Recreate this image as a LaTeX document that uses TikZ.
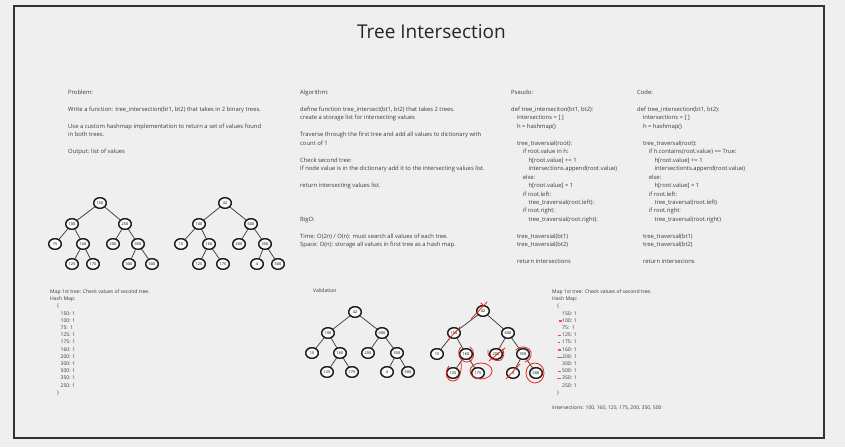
\documentclass[tikz,border=0pt]{standalone}
\usepackage{fontspec}
\setmainfont{Open Sans}
\usetikzlibrary{shapes.geometric}
\definecolor{bg}{HTML}{EFEFEF}
\definecolor{txt}{HTML}{3A3A3A}
\definecolor{framec}{HTML}{333333}
\definecolor{mark}{HTML}{E8261C}
\tikzset{
  blk/.style={anchor=north west, inner sep=0pt, align=left, text=txt, font=\fontsize{5.85}{8.45}\selectfont},
  hblk/.style={anchor=north west, inner sep=0pt, align=left, text=txt, font=\fontsize{5.05}{7.2}\selectfont},
  tn/.style={ellipse, draw=black!90, line width=1.3pt, fill=white!70!bg, minimum width=12.5pt, minimum height=10.5pt, inner sep=0pt, font=\fontsize{3.8}{4}\selectfont},
  edge/.style={draw=black!75, line width=0.75pt},
  redmark/.style={draw=mark, line width=0.8pt, line cap=round},
  reddash/.style={draw=mark!80, line width=1.1pt}
}
\newcommand{\ind}{\hspace*{5.8pt}}
\newcommand{\bintree}[2]{%
  \foreach \n/\px/\py/\lab in {#2} {\node[tn] (#1\n) at (\px,\py) {\lab};}
  \foreach \a/\b in {r/l,r/R,l/ll,l/lr,R/rl,R/rr,lr/lrl,lr/lrr,rr/rrl,rr/rrr}
    {\draw[edge] (#1\a) -- (#1\b);}
  \foreach \n/\px/\py/\lab in {#2} {\node[tn] at (#1\n) {\lab};}
}
\begin{document}
\begin{tikzpicture}[x=1pt,y=-1pt]
\fill[bg] (0,0) rectangle (845,447);
\useasboundingbox (0,0) rectangle (845,447);
\draw[framec, line width=2.2pt] (14,6) rectangle (824,438);

\node[text=black!85, font=\fontsize{19}{21}\selectfont] (title) at (431.5,32) {Tree Intersection};

\node[blk] (problem) at (68,90) {Problem:\\ ~\\
Write a function: tree\_intersection(bt1, bt2) that takes in 2 binary trees.\\ ~\\
Use a custom hashmap implementation to return a set of values found\\
in both trees.\\ ~\\
Output: list of values};

\node[blk] (algo) at (300,90) {Algorithm:\\ ~\\
define function tree\_intersect(bt1, bt2) that takes 2 trees.\\
create a storage list for intersecting values\\ ~\\
Traverse through the first tree and add all values to dictionary with\\
count of 1\\ ~\\
Check second tree:\\
If node value is in the dictionary add it to the intersecting values list.\\ ~\\
return intersecting values list.\\ ~\\ ~\\ ~\\
BigO:\\ ~\\
Time: O(2n) / O(n): must search all values of each tree.\\
Space: O(n): storage all values in first tree as a hash map.};

\node[blk] (pseudo) at (511,90) {Pseudo:\\ ~\\
def tree\_interseciton(bt1, bt2):\\
\ind intersections = [ ]\\
\ind h = hashmap()\\ ~\\
\ind tree\_traversial(root):\\
\ind\ind if root.value in h:\\
\ind\ind\ind h[root.value] += 1\\
\ind\ind\ind intersections.append(root.value)\\
\ind\ind else:\\
\ind\ind\ind h[root.value] = 1\\
\ind\ind if root.left:\\
\ind\ind\ind tree\_traversial(root.left):\\
\ind\ind if root.right:\\
\ind\ind\ind tree\_traversial(root.right):\\ ~\\
\ind tree\_traversial(bt1)\\
\ind tree\_traversial(bt2)\\ ~\\
\ind return intersections};

\node[blk] (code) at (637,90) {Code:\\ ~\\
def tree\_intersection(bt1, bt2):\\
\ind intersections = [ ]\\
\ind h = hashmap()\\ ~\\
\ind tree\_traversal(root):\\
\ind\ind if h.contains(root.value) == True:\\
\ind\ind\ind h[root.value] += 1\\
\ind\ind\ind intersectionts.append(root.value)\\
\ind\ind else:\\
\ind\ind\ind h[root.value] = 1\\
\ind\ind if root.left:\\
\ind\ind\ind tree\_traversal(root.left)\\
\ind\ind if root.right:\\
\ind\ind\ind tree\_traversal(root.right)\\ ~\\
\ind tree\_traversal(bt1)\\
\ind tree\_traversal(bt2)\\ ~\\
\ind return intersecions};

% trees
\bintree{a}{r/100/203/150, l/72/224/100, R/125/224/250, ll/55/244/75, lr/83/244/160, rl/113/244/200, rr/138/244/350, lrl/72/264/125, lrr/93/264/175, rrl/129/264/300, rrr/152/264/500}
\bintree{b}{r/225/203/42, l/199/224/100, R/251/224/600, ll/181/244/15, lr/209/244/160, rl/239/244/200, rr/265/244/350, lrl/199/264/125, lrr/223/264/175, rrl/257/264/4, rrr/278/264/500}
\bintree{c}{r/355/312/42, l/328/333/100, R/382/333/600, ll/312/353/15, lr/340/353/160, rl/368/353/200, rr/397/353/350, lrl/327/372/125, lrr/352/372/175, rrl/387/372/4, rrr/408/372/500}
\bintree{d}{r/483/311/42, l/454/333/100, R/508/333/600, ll/437/354/15, lr/466/354/160, rl/496/354/200, rr/523/354/350, lrl/453/373/125, lrr/478/373/175, rrl/513/373/4, rrr/536/373/500}

% hash maps
\node[hblk] (hash1) at (50,289.5) {Map 1st tree: Check values of second tree.\\
Hash Map:\\
\hspace*{7pt}\{\\
\hspace*{10.5pt}150: 1\\
\hspace*{10.5pt}100: 1\\
\hspace*{10.5pt}75:\ \ 1\\
\hspace*{10.5pt}125: 1\\
\hspace*{10.5pt}175: 1\\
\hspace*{10.5pt}160: 1\\
\hspace*{10.5pt}200: 1\\
\hspace*{10.5pt}300: 1\\
\hspace*{10.5pt}500: 1\\
\hspace*{10.5pt}350: 1\\
\hspace*{10.5pt}250: 1\\
\hspace*{7pt}\}};

\node[hblk] (valid) at (313,288) {Validation};

\node[hblk] (hash3) at (552,289.5) {Map 1st tree: Check values of second tree.\\
Hash Map:\\
\hspace*{5pt}\{\\
\hspace*{10pt}150: 1\\
\hspace*{10pt}100: 1\\
\hspace*{10pt}75:\ \ 1\\
\hspace*{10pt}125: 1\\
\hspace*{10pt}175: 1\\
\hspace*{10pt}160: 1\\
\hspace*{10pt}200: 1\\
\hspace*{10pt}300: 1\\
\hspace*{10pt}500: 1\\
\hspace*{10pt}350: 1\\
\hspace*{10pt}250: 1\\
\hspace*{5pt}\}};
\node[hblk] (inter) at (552,405.5) {intersections: 100, 160, 125, 175, 200, 350, 500};

% red dashes in hash map
\draw[reddash] (559,321) -- (562,321);
\draw[reddash] (558,335.3) -- (560.5,335.3);
\draw[reddash] (558,342.7) -- (560,342.7);
\draw[reddash] (558,350) -- (560.5,350);
\draw[reddash] (557,357.7) -- (562,357.7);
\draw[reddash] (558,371.7) -- (561,371.7);
\draw[reddash] (557,378.7) -- (561,378.7);

% red annotations on validated tree
\draw[redmark] (471,319) -- (487,302);
\draw[redmark] (481,303) -- (484,306);
\draw[redmark] (448,340) -- (460,327);
\draw[redmark] (461,347) .. controls (456,352) and (459,362) .. (467,362) .. controls (474,362) and (476,352) .. (470,347);
\draw[redmark] (488,350) .. controls (487,358) and (494,362) .. (501,360) .. controls (504,357) and (505,352) .. (502,349);
\draw[redmark] (489,361) -- (505,348);
\draw[redmark] (516,350) .. controls (518,346) and (528,345) .. (531,352) .. controls (532,358) and (528,361) .. (525,362);
\draw[redmark] (449,366) .. controls (444,372) and (446,381) .. (453,381) .. controls (460,381) and (462,370) .. (461,362);
\draw[redmark] (481,371) ellipse (11pt and 8pt);
\draw[redmark] (506,379) -- (520,364);
\draw[redmark] (535,373) ellipse (9pt and 10pt);
\end{tikzpicture}
\end{document}
